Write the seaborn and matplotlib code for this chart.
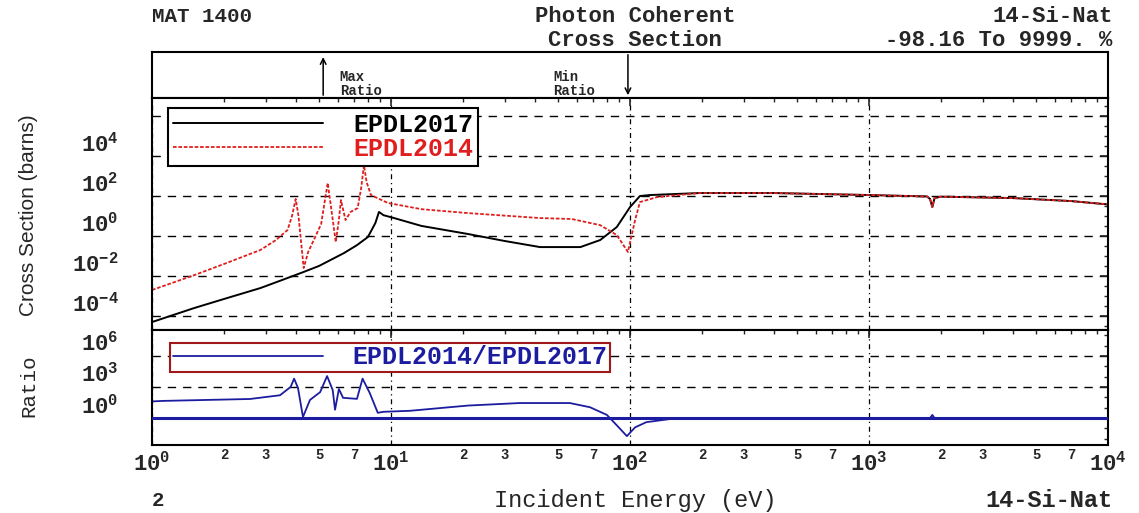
import matplotlib
matplotlib.use("Agg")
import matplotlib.pyplot as plt
import matplotlib.ticker as mticker
import numpy as np
import pandas as pd
import seaborn as sns

# photon coherent cross section, 14-Si-Nat (barns)
energy_2017 = [1.0, 1.5, 2.0, 2.84, 3.5, 4.31, 5.0, 6.35, 7.2, 8.0, 8.6, 8.9, 9.3, 10.3,
               13.4, 21, 30, 42, 62, 75, 88, 100, 110, 121, 195, 400, 1000, 1750,
               1800, 1840, 1880, 2000, 4000, 7000, 10000]
xs_2017 = [5.0e-5, 2.5e-4, 7.1e-4, 2.5e-3, 6.3e-3, 1.6e-2, 3.2e-2, 0.14, 0.35, 0.89, 4.5,
           16, 11, 7.9, 3.2, 1.26, 0.56, 0.28, 0.28, 0.63, 2.8, 28, 100, 112, 141, 141,
           112, 95, 71, 28, 79, 93, 79, 56, 38]

energy_2014 = [1.0, 1.5, 2.0, 2.84, 3.3, 3.69, 3.85, 3.99, 4.1, 4.31, 4.5, 4.75, 5.1, 5.43,
               5.6, 5.87, 6.05, 6.17, 6.45, 6.77, 7.25, 7.5, 7.7, 7.9, 8.24, 9.7, 13.4,
               21, 42, 57, 75, 88, 98, 105, 110, 130, 195, 400, 1000, 1750, 1800, 1840,
               1880, 2000, 4000, 7000, 10000]
xs_2014 = [2.0e-3, 1.1e-2, 4.0e-2, 0.2, 0.63, 2.0, 10, 71, 10, 0.025, 0.16, 0.63, 4.0, 447,
           32, 0.5, 6.3, 63, 6.3, 16, 25, 251, 3548, 501, 112, 45, 22, 14, 7.9, 7.1, 3.5,
           1.12, 0.16, 6.3, 50, 89, 141, 141, 112, 95, 71, 28, 79, 93, 79, 56, 38]

energy_ratio = [1.0, 1.11, 2.57, 3.43, 3.8, 3.93, 4.08, 4.28, 4.58, 5.05, 5.4, 5.7, 5.83,
                6.05, 6.3, 7.2, 7.6, 8.15, 8.8, 9.3, 12, 21, 34.5, 56, 68, 80, 88, 97,
                105, 117, 147, 200, 1800, 1840, 1880, 10000]
ratio = [40, 45, 69, 158, 1000, 6310, 794, 1.26, 56, 316, 11220, 501, 6.3, 631, 89, 71,
         6310, 251, 3.2, 4.0, 5.0, 16, 28, 28, 11, 2.0, 0.2, 0.018, 0.126, 0.4, 0.8, 1.0,
         1.0, 2.0, 1.0, 1.0]

main_yticks = [1e-4, 1e-2, 1e0, 1e2, 1e4, 1e6]
ratio_yticks = [1e0, 1e3, 1e6]
xticks = [1e0, 1e1, 1e2, 1e3, 1e4]

df17 = pd.DataFrame({"E": energy_2017, "xs": xs_2017})
df14 = pd.DataFrame({"E": energy_2014, "xs": xs_2014})
dfr = pd.DataFrame({"E": energy_ratio, "ratio": ratio})

sns.set_style("white")
plt.rcParams["font.family"] = ["Liberation Mono", "DejaVu Sans"]
plt.rcParams["mathtext.fontset"] = "custom"
plt.rcParams["mathtext.rm"] = "Liberation Mono:bold"
plt.rcParams["mathtext.it"] = "Liberation Mono:bold"
plt.rcParams["mathtext.bf"] = "Liberation Mono:bold"

RED = "#e01e1e"
BLUE = "#1c1ca0"

fig = plt.figure(figsize=(11.39, 5.13), dpi=100)
L, W = 0.1335, 0.8393
ax_top = fig.add_axes([L, 0.809, W, 0.0897])
ax = fig.add_axes([L, 0.3567, W, 0.4522])
ax_r = fig.add_axes([L, 0.1326, W, 0.2242])

for a in (ax_top, ax, ax_r):
    a.set_xscale("log")
    a.set_xlim(1, 1e4)
    for s in a.spines.values():
        s.set_linewidth(1.5)
        s.set_color("black")

# header panel with max / min ratio markers
ax_top.set_ylim(0, 1)
ax_top.set_xticks([])
ax_top.set_yticks([])
ax_top.minorticks_off()
ax_top.annotate("", xy=(5.2, 0.95), xytext=(5.2, 0.0),
                arrowprops=dict(arrowstyle="->", lw=1.1, color="black"))
ax_top.annotate("", xy=(98, 0.0), xytext=(98, 1.0),
                arrowprops=dict(arrowstyle="->", lw=1.1, color="black"))
ax_top.text(6.1, 0.46, "Max", fontsize=10, fontweight="bold", va="center")
ax_top.text(6.1, 0.15, "Ratio", fontsize=10, fontweight="bold", va="center")
ax_top.text(47.7, 0.46, "Min", fontsize=10, fontweight="bold", va="center")
ax_top.text(47.7, 0.15, "Ratio", fontsize=10, fontweight="bold", va="center")

# main cross section panel
ax.set_yscale("log")
sns.lineplot(data=df17, x="E", y="xs", ax=ax, color="black", lw=1.4,
             label="EPDL2017", estimator=None)
sns.lineplot(data=df14, x="E", y="xs", ax=ax, color=RED, lw=1.3,
             linestyle=(0, (2, 1)), label="EPDL2014", estimator=None)
ax.set_ylim(10 ** -4.7, 10 ** 6.9)
ax.yaxis.set_major_locator(mticker.FixedLocator(main_yticks))
ax.yaxis.set_major_formatter(mticker.FuncFormatter(
    lambda v, p: "" if v > 1e5 else r"$10^{%d}$" % round(np.log10(v))))
ax.yaxis.set_minor_locator(mticker.LogLocator(base=10, subs=(1.0, 3.16), numticks=60))
ax.yaxis.set_minor_formatter(mticker.NullFormatter())
ax.xaxis.set_major_locator(mticker.FixedLocator(xticks))
ax.xaxis.set_minor_locator(mticker.LogLocator(base=10, subs=np.arange(2, 10), numticks=60))
ax.tick_params(axis="both", which="both", direction="in", top=True, right=True,
               labelbottom=False)
ax.tick_params(axis="both", which="major", length=6, width=1.2)
ax.tick_params(axis="both", which="minor", length=3, width=1)
ax.tick_params(axis="y", which="major", labelsize=16, pad=24)
for t in ax.get_yticklabels():
    t.set_va("bottom")
ax.grid(True, which="major", axis="y", color="black", lw=1, linestyle=(0, (6, 5)))
ax.grid(True, which="major", axis="x", color="black", lw=0.9, linestyle=(0, (4, 3, 1, 3)))
ax.set_xlabel("")
ax.set_ylabel("")
leg = ax.legend(loc="upper left", bbox_to_anchor=(0.0167, 0.957), borderaxespad=0,
                handlelength=6.0, handletextpad=1.2, fancybox=False, framealpha=1,
                edgecolor="black", borderpad=0.2, labelspacing=0.0,
                prop={"family": "Liberation Mono", "weight": "bold", "size": 18})
leg.get_frame().set_linewidth(1.5)
for txt, col in zip(leg.get_texts(), ["black", RED]):
    txt.set_color(col)

# ratio panel
ax_r.set_yscale("log")
ax_r.axhline(1.0, color=BLUE, lw=2.2, zorder=3)
sns.lineplot(data=dfr, x="E", y="ratio", ax=ax_r, color=BLUE, lw=1.3,
             label="EPDL2014/EPDL2017", estimator=None)
ax_r.set_ylim(10 ** -2.6, 10 ** 8.5)
ax_r.yaxis.set_major_locator(mticker.FixedLocator(ratio_yticks))
ax_r.yaxis.set_major_formatter(mticker.FuncFormatter(
    lambda v, p: r"$10^{%d}$" % round(np.log10(v))))
ax_r.yaxis.set_minor_locator(mticker.LogLocator(base=10, subs=(1.0,), numticks=60))
ax_r.yaxis.set_minor_formatter(mticker.NullFormatter())
ax_r.xaxis.set_major_locator(mticker.FixedLocator(xticks))
ax_r.xaxis.set_major_formatter(mticker.FuncFormatter(
    lambda v, p: r"$10^{%d}$" % round(np.log10(v))))
ax_r.xaxis.set_minor_locator(mticker.LogLocator(base=10, subs=np.arange(2, 10), numticks=60))
ax_r.xaxis.set_minor_formatter(mticker.FuncFormatter(
    lambda v, p: str(int(round(v / 10 ** np.floor(np.log10(v) + 1e-9))))
    if int(round(v / 10 ** np.floor(np.log10(v) + 1e-9))) in (2, 3, 5, 7) else ""))
ax_r.tick_params(axis="both", which="both", direction="in", top=True, right=True)
ax_r.tick_params(axis="both", which="major", length=6, width=1.2)
ax_r.tick_params(axis="both", which="minor", length=3, width=1)
ax_r.tick_params(axis="y", which="major", labelsize=16, pad=24)
ax_r.tick_params(axis="x", which="major", labelsize=16, pad=5)
ax_r.tick_params(axis="x", which="minor", labelsize=10, pad=2)
for t in ax_r.get_yticklabels():
    t.set_va("bottom")
for t in ax_r.get_xticklabels(minor=True):
    t.set_fontweight("bold")
ax_r.grid(True, which="major", axis="y", color="black", lw=1, linestyle=(0, (6, 5)))
ax_r.grid(True, which="major", axis="x", color="black", lw=0.9, linestyle=(0, (4, 3, 1, 3)))
ax_r.set_xlabel("")
ax_r.set_ylabel("")
leg_r = ax_r.legend(loc="upper left", bbox_to_anchor=(0.0188, 0.887), borderaxespad=0,
                    handlelength=6.0, handletextpad=1.2, fancybox=False, framealpha=1,
                    edgecolor="#a01818", borderpad=0.1,
                    prop={"family": "Liberation Mono", "weight": "bold", "size": 18})
leg_r.get_frame().set_linewidth(1.5)
for txt in leg_r.get_texts():
    txt.set_color(BLUE)

# titles and axis labels
fig.text(0.1335, 0.968, "MAT 1400", fontsize=15, fontweight="bold", va="center")
fig.text(0.5575, 0.968, "Photon Coherent", fontsize=16, fontweight="bold",
         ha="center", va="center")
fig.text(0.5575, 0.922, "Cross Section", fontsize=16, fontweight="bold",
         ha="center", va="center")
fig.text(0.977, 0.968, "14-Si-Nat", fontsize=16, fontweight="bold", ha="right", va="center")
fig.text(0.977, 0.922, "-98.16 To 9999. %", fontsize=16, fontweight="bold",
         ha="right", va="center")
fig.text(0.1335, 0.025, "2", fontsize=15, fontweight="bold", va="center")
fig.text(0.5575, 0.025, "Incident Energy (eV)", fontsize=17, ha="center", va="center")
fig.text(0.977, 0.025, "14-Si-Nat", fontsize=17, fontweight="bold", ha="right", va="center")
fig.text(0.025, 0.581, "Cross Section (barns)", fontsize=15, rotation=90,
         ha="center", va="center", family=["Liberation Sans", "DejaVu Sans"])
fig.text(0.025, 0.249, "Ratio", fontsize=15, rotation=90, ha="center", va="center")

fig.savefig("out.png", dpi=100)
